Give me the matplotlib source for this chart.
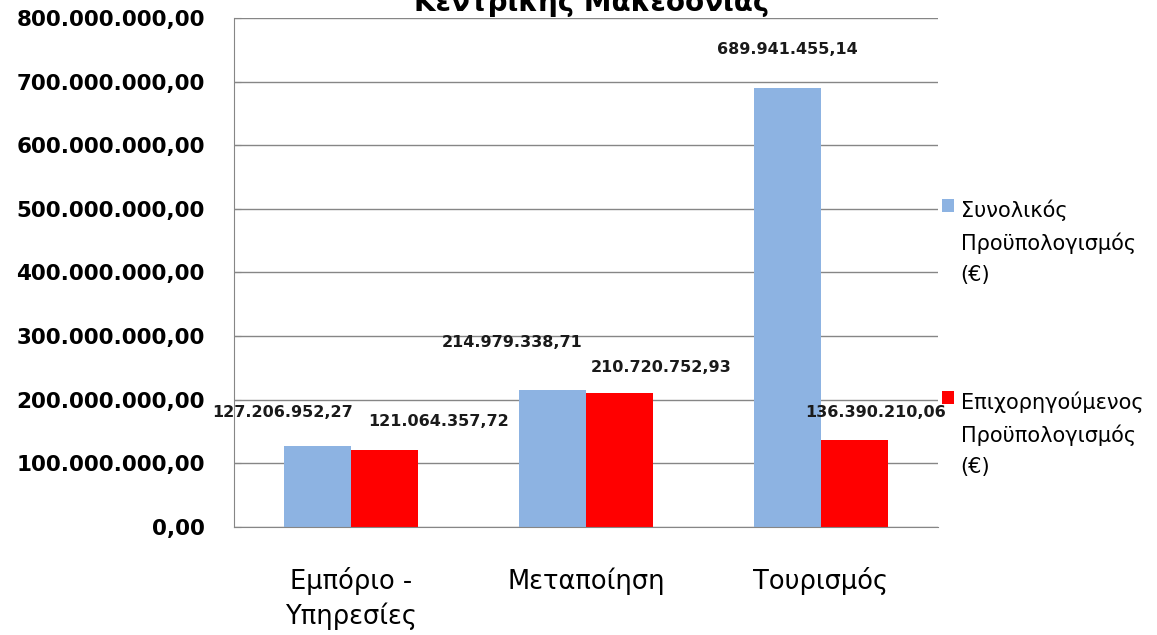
import matplotlib.pyplot as plt
import numpy as np
from matplotlib.ticker import FuncFormatter

categories = ["Εμπόριο -\nΥπηρεσίες", "Μεταποίηση", "Τουρισμός"]
total_budget = [127206952.27, 214979338.71, 689941455.14]
subsidised_budget = [121064357.72, 210720752.93, 136390210.06]
series_names = ["Συνολικός\nΠροϋπολογισμός\n(€)", "Επιχορηγούμενος\nΠροϋπολογισμός\n(€)"]
title = "Κεντρικής Μακεδονίας"


def greek_number(v):
    # 1,234.56 -> 1.234,56
    s = "{:,.2f}".format(v)
    return s.replace(",", "X").replace(".", ",").replace("X", ".")


plt.rcParams["font.family"] = ["DejaVu Sans"]

fig = plt.figure(figsize=(11.57, 6.35), dpi=100)
ax = fig.add_axes([0.2022, 0.1701, 0.6085, 0.8016])

x = np.arange(len(categories))
w = 0.285
b1 = ax.bar(x - w / 2, total_budget, w, color="#8DB3E2", label=series_names[0], zorder=2)
b2 = ax.bar(x + w / 2, subsidised_budget, w, color="#FF0000", label=series_names[1], zorder=2)

# hand-placed data labels, offsets in pixels from the bar top
off1 = [(-35, 34), (-40, 48), (0, 38)]
off2 = [(54, 28), (42, 25), (21, 28)]
for bars, vals, offs in [(b1, total_budget, off1), (b2, subsidised_budget, off2)]:
    for r, v, (dx, dy) in zip(bars, vals, offs):
        ax.annotate(greek_number(v), (r.get_x() + r.get_width() / 2, v),
                    xytext=(dx, dy), textcoords="offset pixels",
                    ha="center", va="center", fontsize=11.5, fontweight="bold",
                    color="#1a1a1a", annotation_clip=False, zorder=3)

ax.set_xlim(-0.5, len(categories) - 0.5)
ax.set_ylim(0, 800000000)
ax.set_yticks(np.arange(0, 800000001, 100000000))
ax.yaxis.set_major_formatter(FuncFormatter(lambda v, p: greek_number(v)))
ax.set_xticks(x)
ax.set_xticklabels(categories, fontsize=18.5, linespacing=1.35)
ax.tick_params(axis="x", length=0, pad=29)
ax.tick_params(axis="y", length=5, direction="in", color="#868686", pad=21)
for lab in ax.get_yticklabels():
    lab.set_fontsize(15.5)
    lab.set_fontweight("bold")

ax.grid(axis="y", color="#868686", linewidth=1, zorder=0)
for side in ["top", "right"]:
    ax.spines[side].set_visible(False)
for side in ["left", "bottom"]:
    ax.spines[side].set_color("#868686")

leg = ax.legend(loc="upper left", bbox_to_anchor=(0.8145, 0.686),
                bbox_transform=fig.transFigure, frameon=False, fontsize=15,
                handlelength=0.58, handleheight=0.58, handletextpad=0.3,
                labelspacing=5.1, borderaxespad=0, borderpad=0)
for t in leg.get_texts():
    t.set_linespacing(1.68)
for col in leg._legend_handle_box.get_children():
    for row in col.get_children():
        row.align = "top"

fig.text(592 / 1157, 1 - 11 / 635, title, ha="center", va="baseline",
         fontsize=20, fontweight="bold")

fig.savefig("out.png", dpi=100)
